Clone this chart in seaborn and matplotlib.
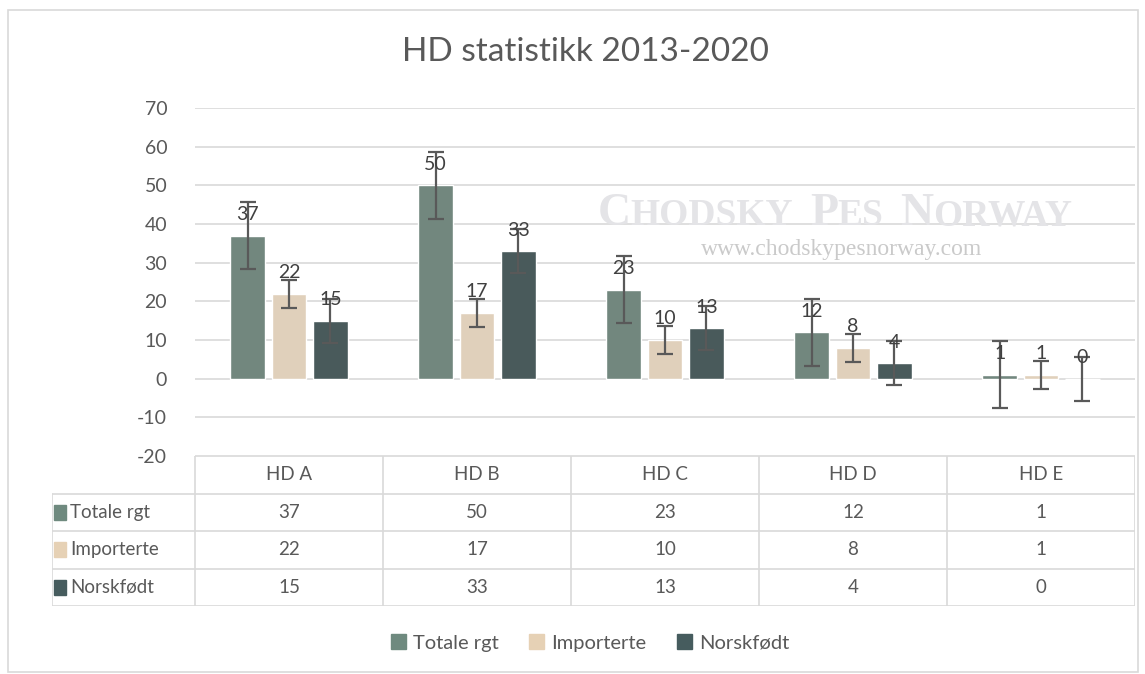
import matplotlib
matplotlib.use("Agg")
import matplotlib.pyplot as plt
import matplotlib.patches as mpatches
import pandas as pd
import seaborn as sns

# data
categories = ["HD A", "HD B", "HD C", "HD D", "HD E"]
series_names = ["Totale rgt", "Importerte", "Norskfødt"]
totale = [37, 50, 23, 12, 1]
importerte = [22, 17, 10, 8, 1]
norskfodt = [15, 33, 13, 4, 0]
# error bar half-lengths (same within a series)
totale_err = [8.7, 8.7, 8.7, 8.7, 8.7]
importerte_err = [3.6, 3.6, 3.6, 3.6, 3.6]
norskfodt_err = [5.7, 5.7, 5.7, 5.7, 5.7]
y_ticks = [-20, -10, 0, 10, 20, 30, 40, 50, 60, 70]

colors = {"Totale rgt": "#6F8A7F", "Importerte": "#E6D1B5", "Norskfødt": "#465C5E"}
text_col = "#595959"
grid_col = "#D9D9D9"

values = [totale, importerte, norskfodt]
errors = [totale_err, importerte_err, norskfodt_err]

df = pd.DataFrame(
    [(c, s, v) for s, vals in zip(series_names, values) for c, v in zip(categories, vals)],
    columns=["cat", "series", "value"],
)

sns.set_theme(style="white")
plt.rcParams["font.family"] = ["Lato", "DejaVu Sans"]

W, H = 1145, 674
fig = plt.figure(figsize=(W / 100, H / 100), dpi=100)


def fx(px):
    return px / W


def fy(py):
    return 1 - py / H


# outer chart border
fig.patches.append(mpatches.Rectangle((fx(8), fy(672)), fx(1138) - fx(8), fy(10) - fy(672),
                                      transform=fig.transFigure, fill=False,
                                      edgecolor=grid_col, lw=1.2))

ax = fig.add_axes([fx(195), fy(456), fx(1135) - fx(195), fy(108) - fy(456)])
sns.barplot(data=df, x="cat", y="value", hue="series", order=categories,
            hue_order=series_names, palette=colors, width=0.66, gap=0.17,
            errorbar=None, legend=False, ax=ax)

for cont, errs, vals in zip(ax.containers, errors, values):
    xs = [b.get_x() + b.get_width() / 2 for b in cont]
    ax.errorbar(xs, vals, yerr=errs, fmt="none", ecolor="#595959",
                elinewidth=1.6, capsize=6, capthick=1.6, zorder=4)
    ax.bar_label(cont, labels=[str(v) for v in vals], padding=9,
                 fontsize=14, color="#404040", zorder=5)

ax.set_xlim(-0.5, len(categories) - 0.5)
ax.set_ylim(-20, 70)
ax.set_yticks(y_ticks)
ax.set_yticklabels([str(t) for t in y_ticks], fontsize=14, color=text_col)
ax.tick_params(axis="y", length=0, pad=20)
ax.set_xticks([])
ax.set_xlabel("")
ax.set_ylabel("")
ax.grid(axis="y", color=grid_col, lw=1.2)
ax.set_axisbelow(True)
for sp in ax.spines.values():
    sp.set_visible(False)

# watermark, small caps built from two sizes
fig.canvas.draw()
rend = fig.canvas.get_renderer()
wm_words = ["Chodsky", "Pes", "Norway"]
wm_col = "#E4E4E7"
wm_kw = dict(family="Liberation Serif", fontweight="bold", color=wm_col,
             va="baseline", ha="left", zorder=0)
pieces = []
for wi, w in enumerate(wm_words):
    pieces.append((w[0], 33))
    pieces.append((w[1:].upper(), 27))
    if wi < len(wm_words) - 1:
        pieces.append(("  ", 27))
widths = []
for txt, fs in pieces:
    t = fig.text(0, 0, txt, fontsize=fs, **wm_kw)
    widths.append(t.get_window_extent(rend).width if txt.strip() else fs * 0.62)
    t.remove()
x0 = 835 - sum(widths) / 2
for (txt, fs), wd in zip(pieces, widths):
    if txt.strip():
        fig.text(fx(x0), fy(225), txt, fontsize=fs, **wm_kw)
    x0 += wd
fig.text(fx(842), fy(250), "www.chodskypesnorway.com", ha="center", va="center",
         fontsize=17, color="#CACACA", family="Liberation Serif", zorder=0)

# title
fig.text(fx(585), fy(52), "HD statistikk 2013-2020", ha="center", va="center",
         fontsize=24, color=text_col)

# data table below the plot
tab = fig.add_axes([fx(52), fy(606), fx(1135) - fx(52), fy(456) - fy(606)])
label_w = (195 - 52) / 188.0
tab.set_xlim(-0.5 - label_w, len(categories) - 0.5)
tab.set_ylim(0, 4)
tab.axis("off")
lc = dict(color=grid_col, lw=1.2)
tab.plot([-0.5, len(categories) - 0.5], [4, 4], **lc)
for yv in [3, 2, 1, 0]:
    tab.plot([-0.5 - label_w, len(categories) - 0.5], [yv, yv], **lc)
tab.plot([-0.5 - label_w, -0.5 - label_w], [0, 3], **lc)
for i in range(len(categories) + 1):
    tab.plot([i - 0.5, i - 0.5], [0, 4], **lc)
for i, c in enumerate(categories):
    tab.text(i, 3.5, c, ha="center", va="center", fontsize=13.5, color=text_col)
for r, (name, vals) in enumerate(zip(series_names, values)):
    yc = 2.5 - r
    tab.add_patch(mpatches.Rectangle((-0.5 - label_w + 0.01, yc - 0.2), 0.065, 0.4,
                                     color=colors[name], clip_on=False))
    tab.text(-0.5 - label_w + 0.095, yc, name, ha="left", va="center",
             fontsize=13.5, color=text_col)
    for i, v in enumerate(vals):
        tab.text(i, yc, str(v), ha="center", va="center", fontsize=13.5, color=text_col)

# legend
handles = [mpatches.Patch(color=colors[s], label=s) for s in series_names]
fig.legend(handles=handles, loc="center", bbox_to_anchor=(fx(590), fy(643)), ncol=3,
           frameon=False, fontsize=14.5, handlelength=0.75, handleheight=0.75,
           handletextpad=0.35, columnspacing=1.5, labelcolor=text_col)

fig.savefig("out.png", dpi=100)
